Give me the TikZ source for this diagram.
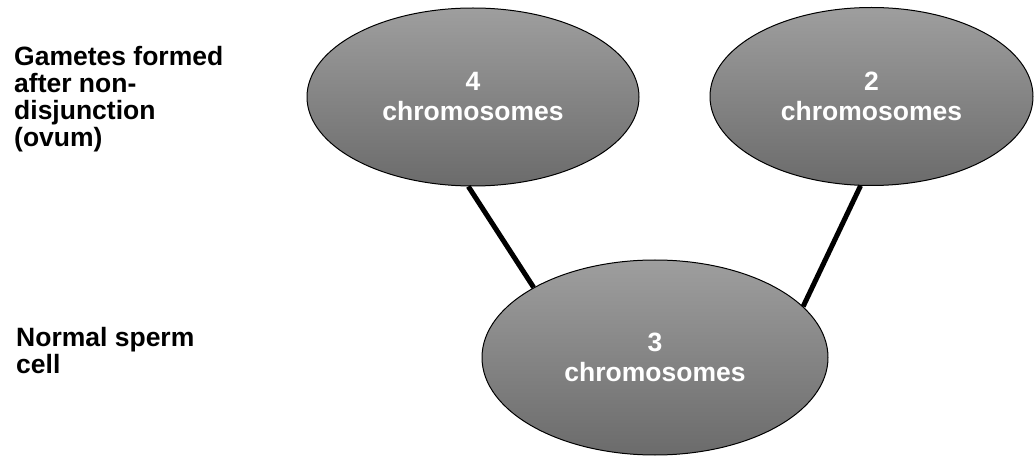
\documentclass[tikz,border=0pt]{standalone}
\usepackage{fontspec}
\setmainfont{Liberation Sans}
\usetikzlibrary{shapes.geometric}
\tikzset{
  cellnode/.style={ellipse,draw=black,line width=1pt,inner sep=0pt,
    top color=black!38,bottom color=black!58,text=white,align=center,
    font=\fontsize{26.5}{30}\selectfont\bfseries},
  sidelabel/.style={anchor=base west,align=left,inner sep=0pt,
    font=\fontsize{26.5}{27}\selectfont\bfseries},
  link/.style={line width=5pt}
}
\begin{document}
\begin{tikzpicture}[x=1pt,y=1pt]
  \useasboundingbox (0,0) rectangle (1034,-457);
  % Gametes
  \node[cellnode,minimum width=332,minimum height=178] (ovumA) at (473,-97) {4\\chromosomes};
  \node[cellnode,minimum width=323,minimum height=178] (ovumB) at (871.5,-96.5) {2\\chromosomes};
  % Sperm
  \node[cellnode,minimum width=346,minimum height=195] (sperm) at (655,-357.5) {3\\chromosomes};
  % Links
  \draw[link] (ovumA.-93) -- (sperm.150.5);
  \draw[link] (ovumB.-97.6) -- (sperm.19.2);
  % Row labels (anchored on the last line)
  \node[sidelabel] (gametes) at (14,-147) {Gametes formed\\after non-\\disjunction\\(ovum)};
  \node[sidelabel] (normal) at (16,-373) {Normal sperm\\cell};
\end{tikzpicture}
\end{document}
